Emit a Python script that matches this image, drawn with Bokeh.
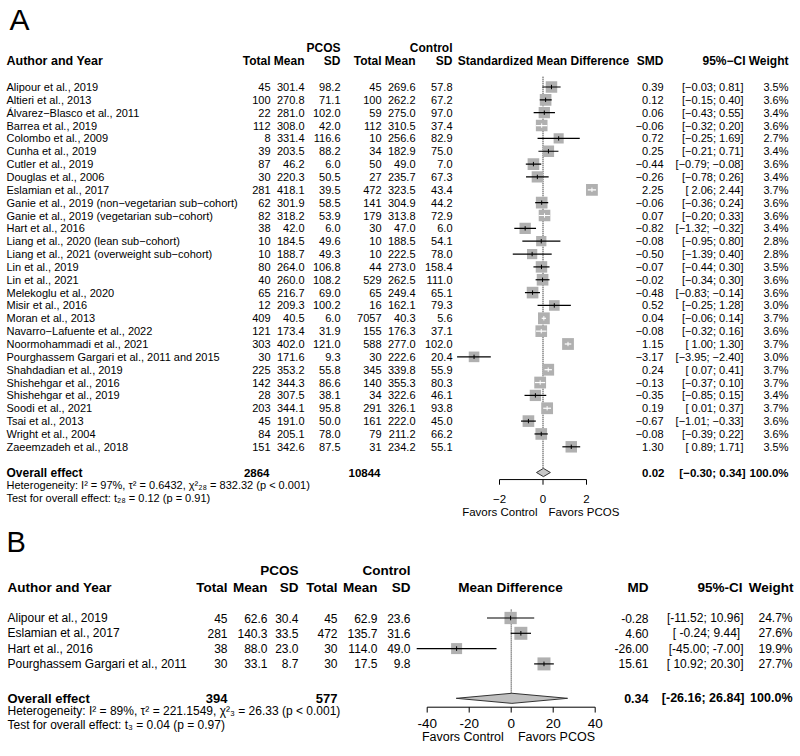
import math
from bokeh.plotting import figure
from bokeh.models import Range1d
from bokeh.embed import file_html
from bokeh.resources import INLINE
from bokeh.core.properties import value

MINUS = "\u2212"

# ---------------- Panel A data ----------------
studies_A = ["Alipour et al., 2019", "Altieri et al., 2013", "Álvarez−Blasco et al., 2011",
             "Barrea et al., 2019", "Colombo et al., 2009", "Cunha et al., 2019",
             "Cutler et al., 2019", "Douglas et al., 2006", "Eslamian et al., 2017",
             "Ganie et al., 2019 (non−vegetarian sub−cohort)",
             "Ganie et al., 2019 (vegetarian sub−cohort)", "Hart et al., 2016",
             "Liang et al., 2020 (lean sub−cohort)", "Liang et al., 2021 (overweight sub−cohort)",
             "Lin et al., 2019", "Lin et al., 2021", "Melekoglu et al., 2020", "Misir et al., 2016",
             "Moran et al., 2013", "Navarro−Lafuente et al., 2022", "Noormohammadi et al., 2021",
             "Pourghassem Gargari et al., 2011 and 2015", "Shahdadian et al., 2019",
             "Shishehgar et al., 2016", "Shishehgar et al., 2019", "Soodi et al., 2021",
             "Tsai et al., 2013", "Wright et al., 2004", "Zaeemzadeh et al., 2018"]
pcos_n_A = [45, 100, 22, 112, 8, 39, 87, 30, 281, 62, 82, 38, 10, 10, 80, 40, 65, 12, 409, 121,
            303, 30, 225, 142, 28, 203, 45, 84, 151]
pcos_mean_A = [301.4, 270.8, 281.0, 308.0, 331.4, 203.5, 46.2, 220.3, 418.1, 301.9, 318.2, 42.0,
               184.5, 188.7, 264.0, 260.0, 216.7, 209.3, 40.5, 173.4, 402.0, 171.6, 353.2, 344.3,
               307.5, 344.1, 191.0, 205.1, 342.6]
pcos_sd_A = [98.2, 71.1, 102.0, 42.0, 116.6, 88.2, 6.0, 50.5, 39.5, 58.5, 53.9, 6.0, 49.6, 49.3,
             106.8, 108.2, 69.0, 100.2, 6.0, 31.9, 121.0, 9.3, 55.8, 86.6, 38.1, 95.8, 50.0, 78.0, 87.5]
ctrl_n_A = [45, 100, 59, 112, 10, 34, 50, 27, 472, 141, 179, 30, 10, 10, 44, 529, 65, 16, 7057, 155,
            588, 30, 345, 140, 34, 291, 161, 79, 31]
ctrl_mean_A = [269.6, 262.2, 275.0, 310.5, 256.6, 182.9, 49.0, 235.7, 323.5, 304.9, 313.8, 47.0,
               188.5, 222.5, 273.0, 262.5, 249.4, 162.1, 40.3, 176.3, 277.0, 222.6, 339.8, 355.3,
               322.6, 326.1, 222.0, 211.2, 234.2]
ctrl_sd_A = [57.8, 67.2, 97.0, 37.4, 82.9, 75.0, 7.0, 67.3, 43.4, 44.2, 72.9, 6.0, 54.1, 78.0,
             158.4, 111.0, 65.1, 79.3, 5.6, 37.1, 102.0, 20.4, 55.9, 80.3, 46.1, 93.8, 45.0, 66.2, 55.1]
smd_A = [0.39, 0.12, 0.06, -0.06, 0.72, 0.25, -0.44, -0.26, 2.25, -0.06, 0.07, -0.82, -0.08, -0.50,
         -0.07, -0.02, -0.48, 0.52, 0.04, -0.08, 1.15, -3.17, 0.24, -0.13, -0.35, 0.19, -0.67, -0.08, 1.30]
lo_A = [-0.03, -0.15, -0.43, -0.32, -0.25, -0.21, -0.79, -0.78, 2.06, -0.36, -0.20, -1.32, -0.95,
        -1.39, -0.44, -0.34, -0.83, -0.25, -0.06, -0.32, 1.00, -3.95, 0.07, -0.37, -0.85, 0.01,
        -1.01, -0.39, 0.89]
hi_A = [0.81, 0.40, 0.55, 0.20, 1.69, 0.71, -0.08, 0.26, 2.44, 0.24, 0.33, -0.32, 0.80, 0.40, 0.30,
        0.30, -0.14, 1.28, 0.14, 0.16, 1.30, -2.40, 0.41, 0.10, 0.15, 0.37, -0.33, 0.22, 1.71]
weight_A = [3.5, 3.6, 3.4, 3.6, 2.7, 3.4, 3.6, 3.4, 3.7, 3.6, 3.6, 3.4, 2.8, 2.8, 3.5, 3.6, 3.6, 3.0,
            3.7, 3.6, 3.7, 3.0, 3.7, 3.7, 3.4, 3.7, 3.6, 3.6, 3.5]
overall_A = {"n_pcos": 2864, "n_ctrl": 10844, "est": 0.02, "lo": -0.30, "hi": 0.34, "w": 100.0}
het_A = "Heterogeneity: I² = 97%, τ² = 0.6432, χ²₂₈ = 832.32 (p < 0.001)"
test_A = "Test for overall effect: t₂₈ = 0.12 (p = 0.91)"
ticks_A = [-2, 0, 2]
tick_labels_A = ["−2", "0", "2"]

# ---------------- Panel B data ----------------
studies_B = ["Alipour et al., 2019", "Eslamian et al., 2017", "Hart et al., 2016",
             "Pourghassem Gargari et al., 2011"]
pcos_n_B = [45, 281, 38, 30]
pcos_mean_B = [62.6, 140.3, 88.0, 33.1]
pcos_sd_B = [30.4, 33.5, 23.0, 8.7]
ctrl_n_B = [45, 472, 30, 30]
ctrl_mean_B = [62.9, 135.7, 114.0, 17.5]
ctrl_sd_B = [23.6, 31.6, 49.0, 9.8]
md_B = [-0.28, 4.60, -26.00, 15.61]
lo_B = [-11.52, -0.24, -45.00, 10.92]
hi_B = [10.96, 9.44, -7.00, 20.30]
weight_B = [24.7, 27.6, 19.9, 27.7]
overall_B = {"n_pcos": 394, "n_ctrl": 577, "est": 0.34, "lo": -26.16, "hi": 26.84, "w": 100.0}
het_B = "Heterogeneity: I² = 89%, τ² = 221.1549, χ²₃ = 26.33 (p < 0.001)"
test_B = "Test for overall effect: t₃ = 0.04 (p = 0.97)"
ticks_B = [-40, -20, 0, 20, 40]
tick_labels_B = ["-40", "-20", "0", "20", "40"]

# ---------------- layout constants ----------------
W, H = 800, 756
PX0, PX1, PY0, PY1 = 0, W, 0, H
A_ROW1, A_STEP = 86.5, 12.85
B_ROW1, B_STEP = 617.5, 15.3
A_ZERO, A_UNIT = 542.5, 21.75
B_ZERO, B_UNIT = 510.7, 2.1
FONT = value("Liberation Sans")
BOX = "#b0b0b0"

p = figure(width=W, height=H, output_backend="svg", toolbar_location=None,
           x_range=Range1d(PX0, PX1), y_range=Range1d(PY1, PY0),
           x_axis_type=None, y_axis_type=None, min_border=0)
p.outline_line_color = None
p.background_fill_color = "white"
p.border_fill_color = "white"
p.extra_x_ranges = {
    "smdA": Range1d((PX0 - A_ZERO) / A_UNIT, (PX1 - A_ZERO) / A_UNIT),
    "mdB": Range1d((PX0 - B_ZERO) / B_UNIT, (PX1 - B_ZERO) / B_UNIT),
}
p.extra_y_ranges = {
    "rowA": Range1d((PY1 - A_ROW1) / A_STEP + 1, (PY0 - A_ROW1) / A_STEP + 1),
    "rowB": Range1d((PY1 - B_ROW1) / B_STEP + 1, (PY0 - B_ROW1) / B_STEP + 1),
}


def txt(xs, ys, texts, yr="default", xr="default", align="right", size="11px", bold=False):
    p.text(x=xs, y=ys, text=texts, x_range_name=xr, y_range_name=yr, text_align=align,
           text_baseline="middle", text_font=FONT, text_font_size=size,
           text_font_style="bold" if bold else "normal", text_color="black")


def m(s):
    return s.replace("-", MINUS)


# ---------------- Panel labels ----------------
txt([9], [19], ["A"], align="left", size="30px")
txt([6], [541], ["B"], align="left", size="29px")

# ================= PANEL A =================
nA = len(studies_A)
rowsA = list(range(1, nA + 1))
hdrA = -1.0
txt([340, 452], [-2.0, -2.0], ["PCOS", "Control"], yr="rowA", size="12px", bold=True)
txt([6], [hdrA], ["Author and Year"], yr="rowA", align="left", size="12.5px", bold=True)
txt([270, 304, 340, 381, 415, 452, 663, 745, 788], [hdrA] * 9,
    ["Total", "Mean", "SD", "Total", "Mean", "SD", "SMD", "95%−CI", "Weight"],
    yr="rowA", size="12px", bold=True)
txt([543], [hdrA], ["Standardized Mean Difference"], yr="rowA", align="center", size="12px", bold=True)

txt([6] * nA, rowsA, studies_A, yr="rowA", align="left")
txt([270] * nA, rowsA, [str(v) for v in pcos_n_A], yr="rowA")
txt([304] * nA, rowsA, [f"{v:.1f}" for v in pcos_mean_A], yr="rowA")
txt([340] * nA, rowsA, [f"{v:.1f}" for v in pcos_sd_A], yr="rowA")
txt([381] * nA, rowsA, [str(v) for v in ctrl_n_A], yr="rowA")
txt([415] * nA, rowsA, [f"{v:.1f}" for v in ctrl_mean_A], yr="rowA")
txt([452] * nA, rowsA, [f"{v:.1f}" for v in ctrl_sd_A], yr="rowA")
txt([663] * nA, rowsA, [m(f"{v:.2f}") for v in smd_A], yr="rowA")
txt([743] * nA, rowsA,
    ["[" + m(f"{a:.2f}").rjust(5) + "; " + m(f"{b:.2f}") + "]" for a, b in zip(lo_A, hi_A)],
    yr="rowA")
txt([788] * nA, rowsA, [f"{w:.1f}%" for w in weight_A], yr="rowA")

ovA_row = nA + 2
txt([6], [ovA_row], ["Overall effect"], yr="rowA", align="left", size="12px", bold=True)
txt([269, 380], [ovA_row] * 2, [str(overall_A["n_pcos"]), str(overall_A["n_ctrl"])],
    yr="rowA", size="11.5px", bold=True)
txt([664, 745, 788], [ovA_row] * 3,
    [m(f"{overall_A['est']:.2f}"),
     "[" + m(f"{overall_A['lo']:.2f}") + "; " + m(f"{overall_A['hi']:.2f}") + "]",
     f"{overall_A['w']:.1f}%"], yr="rowA", size="11.5px", bold=True)
txt([6], [ovA_row + 1], [het_A], yr="rowA", align="left")
txt([6], [ovA_row + 2], [test_A], yr="rowA", align="left")

# forest A
max_wA = max(weight_A)
sideA = [11.8 * math.sqrt(w / max_wA) for w in weight_A]
colA = ["white" if (h - l) * A_UNIT <= s else "black" for l, h, s in zip(lo_A, hi_A, sideA)]
p.segment(x0=[0], y0=[0.2], x1=[0], y1=[ovA_row - 0.3], x_range_name="smdA", y_range_name="rowA",
          line_color="black", line_width=1, line_dash="1 1")
p.scatter(x=smd_A, y=rowsA, size=sideA, marker="square", fill_color=BOX, line_color=None,
          x_range_name="smdA", y_range_name="rowA")
p.segment(x0=lo_A, y0=rowsA, x1=hi_A, y1=rowsA, line_color=colA, line_width=1.2,
          x_range_name="smdA", y_range_name="rowA")
p.segment(x0=smd_A, y0=[r - 0.17 for r in rowsA], x1=smd_A, y1=[r + 0.17 for r in rowsA],
          line_color=colA, line_width=1, x_range_name="smdA", y_range_name="rowA")
hA = 0.32
p.patch(x=[overall_A["lo"], overall_A["est"], overall_A["hi"], overall_A["est"]],
        y=[ovA_row, ovA_row - hA, ovA_row, ovA_row + hA], fill_color="#c8c8c8",
        line_color="#333333", line_width=1, x_range_name="smdA", y_range_name="rowA")
axA = ovA_row + 0.55
p.segment(x0=[ticks_A[0]], y0=[axA], x1=[ticks_A[-1]], y1=[axA], line_color="black",
          line_width=1, x_range_name="smdA", y_range_name="rowA")
p.segment(x0=ticks_A, y0=[axA] * len(ticks_A), x1=ticks_A, y1=[axA + 0.4] * len(ticks_A),
          line_color="black", line_width=1, x_range_name="smdA", y_range_name="rowA")
txt(ticks_A, [axA + 1.5] * len(ticks_A), tick_labels_A, yr="rowA", xr="smdA",
    align="center", size="11.5px")
txt([-0.25], [axA + 2.5], ["Favors Control"], yr="rowA", xr="smdA", size="11.5px")
txt([0.25], [axA + 2.5], ["Favors PCOS"], yr="rowA", xr="smdA", align="left", size="11.5px")

# ================= PANEL B =================
nB = len(studies_B)
rowsB = list(range(1, nB + 1))
hdrB = -1.0
txt([298, 410], [-2.1, -2.1], ["PCOS", "Control"], yr="rowB", size="13.5px", bold=True)
txt([7], [hdrB], ["Author and Year"], yr="rowB", align="left", size="13.5px", bold=True)
txt([227, 267, 298, 337, 377, 410, 648, 742, 793], [hdrB] * 9,
    ["Total", "Mean", "SD", "Total", "Mean", "SD", "MD", "95%-CI", "Weight"],
    yr="rowB", size="13.5px", bold=True)
txt([510], [hdrB], ["Mean Difference"], yr="rowB", align="center", size="13.5px", bold=True)

txt([7] * nB, rowsB, studies_B, yr="rowB", align="left", size="12px")
txt([227] * nB, rowsB, [str(v) for v in pcos_n_B], yr="rowB", size="12px")
txt([267] * nB, rowsB, [f"{v:.1f}" for v in pcos_mean_B], yr="rowB", size="12px")
txt([298] * nB, rowsB, [f"{v:.1f}" for v in pcos_sd_B], yr="rowB", size="12px")
txt([337] * nB, rowsB, [str(v) for v in ctrl_n_B], yr="rowB", size="12px")
txt([377] * nB, rowsB, [f"{v:.1f}" for v in ctrl_mean_B], yr="rowB", size="12px")
txt([410] * nB, rowsB, [f"{v:.1f}" for v in ctrl_sd_B], yr="rowB", size="12px")
txt([648] * nB, rowsB, [f"{v:.2f}" for v in md_B], yr="rowB", size="12px")
txt([743] * nB, rowsB,
    ["[" + f"{a:.2f}".rjust(6) + "; " + f"{b:.2f}".rjust(5) + "]" for a, b in zip(lo_B, hi_B)],
    yr="rowB", size="12px")
txt([792] * nB, rowsB, [f"{w:.1f}%" for w in weight_B], yr="rowB", size="12px")

ovB_row = nB + 2.25
txt([7], [ovB_row], ["Overall effect"], yr="rowB", align="left", size="13px", bold=True)
txt([227, 337], [ovB_row] * 2, [str(overall_B["n_pcos"]), str(overall_B["n_ctrl"])],
    yr="rowB", size="13px", bold=True)
txt([648, 744, 792], [ovB_row] * 3,
    [f"{overall_B['est']:.2f}",
     "[" + f"{overall_B['lo']:.2f}" + "; " + f"{overall_B['hi']:.2f}" + "]",
     f"{overall_B['w']:.1f}%"], yr="rowB", size="12.5px", bold=True)
txt([7], [ovB_row + 0.8], [het_B], yr="rowB", align="left", size="12px")
txt([7], [ovB_row + 1.75], [test_B], yr="rowB", align="left", size="12px")

# forest B
max_wB = max(weight_B)
sideB = [13.0 * math.sqrt(w / max_wB) for w in weight_B]
colB = ["white" if (h - l) * B_UNIT <= s else "black" for l, h, s in zip(lo_B, hi_B, sideB)]
p.segment(x0=[0], y0=[0.45], x1=[0], y1=[ovB_row - 0.3], x_range_name="mdB", y_range_name="rowB",
          line_color="black", line_width=1, line_dash="1 1")
p.scatter(x=md_B, y=rowsB, size=sideB, marker="square", fill_color=BOX, line_color=None,
          x_range_name="mdB", y_range_name="rowB")
p.segment(x0=lo_B, y0=rowsB, x1=hi_B, y1=rowsB, line_color=colB, line_width=1.2,
          x_range_name="mdB", y_range_name="rowB")
p.segment(x0=md_B, y0=[r - 0.15 for r in rowsB], x1=md_B, y1=[r + 0.15 for r in rowsB],
          line_color=colB, line_width=1, x_range_name="mdB", y_range_name="rowB")
hB = 0.33
p.patch(x=[overall_B["lo"], overall_B["est"], overall_B["hi"], overall_B["est"]],
        y=[ovB_row, ovB_row - hB, ovB_row, ovB_row + hB], fill_color="#c0c0c0",
        line_color="#333333", line_width=1, x_range_name="mdB", y_range_name="rowB")
axB = ovB_row + 0.58
p.segment(x0=[ticks_B[0]], y0=[axB], x1=[ticks_B[-1]], y1=[axB], line_color="black",
          line_width=1, x_range_name="mdB", y_range_name="rowB")
p.segment(x0=ticks_B, y0=[axB] * len(ticks_B), x1=ticks_B, y1=[axB + 0.35] * len(ticks_B),
          line_color="black", line_width=1, x_range_name="mdB", y_range_name="rowB")
txt(ticks_B, [axB + 1.07] * len(ticks_B), tick_labels_B, yr="rowB", xr="mdB",
    align="center", size="13.5px")
txt([-3.5], [axB + 1.98], ["Favors Control"], yr="rowB", xr="mdB", size="12.5px")
txt([3.2], [axB + 1.98], ["Favors PCOS"], yr="rowB", xr="mdB", align="left", size="12.5px")

open("out.html", "w").write(file_html(p, INLINE))
